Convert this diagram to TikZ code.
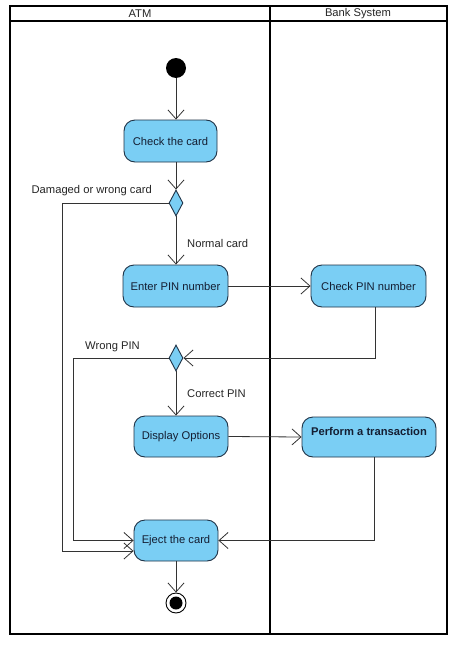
\documentclass[tikz,border=0pt]{standalone}
\usepackage{fontspec}
\setmainfont{Liberation Sans}
\usetikzlibrary{shapes.geometric,arrows.meta,calc}
\definecolor{actfill}{RGB}{122,206,244}
\definecolor{actdraw}{RGB}{30,50,70}
\definecolor{txt}{RGB}{20,30,50}
\begin{document}
\begin{tikzpicture}[x=1pt,y=-1pt,
  act/.style={rectangle,rounded corners=11pt,draw=actdraw,fill=actfill,line width=0.9pt,
    text=txt,font=\fontsize{11.2}{13}\selectfont,inner sep=0pt},
  dec/.style={diamond,draw=actdraw,fill=actfill,line width=0.9pt,minimum width=14pt,minimum height=26pt,inner sep=0pt},
  arr/.style={draw=black!80,line width=0.8pt,-{Straight Barb[length=9pt,width=16pt,line width=0.8pt]}},
  lbl/.style={font=\fontsize{11.2}{13}\selectfont,text=black!85,inner sep=0pt},
  lane/.style={draw=black,line width=1.6pt}]
\useasboundingbox (0,0) rectangle (474,648);
\fill[white] (0,0) rectangle (474,648);
% swimlanes
\draw[lane] (10,6) rectangle (447,634);
\draw[lane] (10,21) -- (447,21);
\draw[lane] (270,6) -- (270,634);
\node[lbl] (hatm) at (140,14) {ATM};
\node[lbl] (hbank) at (358,14) {Bank System};
% nodes
\node[circle,fill=black,minimum size=20pt,inner sep=0pt] (start) at (176,68) {};
\node[act,minimum width=93pt,minimum height=42pt] (check) at (170.5,141) {Check the card};
\node[dec] (d1) at (176,203) {};
\node[act,minimum width=105pt,minimum height=42pt] (enter) at (175.5,286) {Enter PIN number};
\node[act,minimum width=115pt,minimum height=42pt] (cpin) at (368.5,286) {Check PIN number};
\node[dec] (d2) at (176,358) {};
\node[act,minimum width=94pt,minimum height=41pt] (disp) at (181,436.5) {Display Options};
\node[act,minimum width=134pt,minimum height=40pt,text height=8pt,text depth=12pt,font=\fontsize{11.2}{13}\selectfont\bfseries] (perf) at (369,437) {Perform a transaction};
\node[act,minimum width=84pt,minimum height=41pt] (eject) at (176,540.5) {Eject the card};
\node[circle,draw=black,line width=0.9pt,fill=white,minimum size=20pt,inner sep=0pt] (final) at (176,603) {};
\node[circle,fill=black,minimum size=13pt,inner sep=0pt] (finalin) at (final) {};
% coordinates
\coordinate (k1) at (62,203);
\coordinate (k2) at (73,358);
% labels
\node[lbl,anchor=east] (l1) at (152,191) {Damaged or wrong card};
\node[lbl,anchor=west] (l2) at (187,243) {Normal card};
\node[lbl,anchor=east] (l3) at (140,347) {Wrong PIN};
\node[lbl,anchor=west] (l4) at (187,394) {Correct PIN};
% connectors
\draw[arr] (start) -- (start |- check.north);
\draw[arr] (d1 |- check.south) -- (d1.north);
\draw[arr] (d1.south) -- (d1 |- enter.north);
\draw[arr] (d1.west) -- (k1) |- ([yshift=-10.5pt]eject.west);
\draw[arr] (enter.east) -- (cpin.west);
\draw[arr] ([xshift=6.5pt]cpin.south) |- (d2.east);
\draw[arr] (d2.west) -- (k2) |- (eject.west);
\draw[arr] (d2.south) -- (d2 |- disp.north);
\draw[arr] (disp.east) -- (perf.west);
\draw[arr] ([xshift=5pt]perf.south) |- (eject.east);
\draw[arr] (eject.south) -- (final.north);
\end{tikzpicture}
\end{document}
